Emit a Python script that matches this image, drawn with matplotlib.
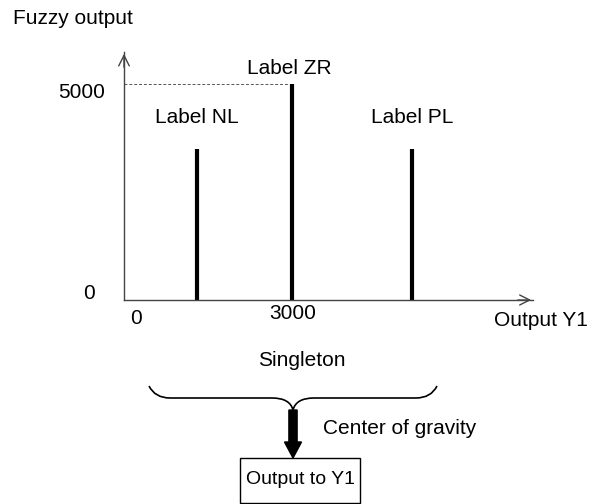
import matplotlib
matplotlib.use("Agg")
import matplotlib.pyplot as plt
from matplotlib.path import Path
from matplotlib.patches import PathPatch, FancyArrow, Rectangle

plt.rcParams['font.family'] = ['Liberation Sans', 'DejaVu Sans']
FS = 15

# singleton outputs
labels = ["Label NL", "Label ZR", "Label PL"]
positions = [1300, 3000, 5150]
heights = [3500, 5000, 3500]
x_ticks = [0, 3000]
y_ticks = [0, 5000]

W, H = 591, 504
fig = plt.figure(figsize=(W / 100, H / 100), dpi=100)

def f(x, y):
    # pixel (from top-left) -> figure fraction
    return (x / W, 1 - y / H)

# data axes: origin at pixel (124, 300)
ax = fig.add_axes([124 / W, 204 / H, 392 / W, 216 / H])
ax.set_xlim(0, 7000)
ax.set_ylim(0, 5000)
ax.axis('off')

ax.vlines(positions, 0, heights, colors='black', linewidth=3)
ax.hlines(heights[1], 0, positions[1] - 50, colors='#555555',
          linewidth=0.7, linestyles=(0, (3, 2)))

for lab, xp, hp in zip(labels, positions, heights):
    off = (0, 22.3) if hp < max(heights) else (-2, 11.5)
    ax.annotate(lab, (xp, hp), xytext=off, textcoords='offset points',
                ha='center', va='center', fontsize=FS)

# axes with open arrow heads
axis_col = '#444444'
fig.add_artist(plt.Line2D([f(124, 0)[0]] * 2, [f(0, 300)[1], f(0, 52)[1]],
                          color=axis_col, lw=1))
fig.add_artist(plt.Line2D([f(124, 0)[0], f(533, 0)[0]], [f(0, 300)[1]] * 2,
                          color=axis_col, lw=1))
ax.annotate('', xy=f(124, 51), xytext=f(124, 70), xycoords='figure fraction',
            arrowprops=dict(arrowstyle='->', color=axis_col, lw=1, mutation_scale=19))
ax.annotate('', xy=f(534, 300), xytext=f(515, 300), xycoords='figure fraction',
            arrowprops=dict(arrowstyle='->', color=axis_col, lw=1, mutation_scale=18))

# tick labels
for xt in x_ticks:
    off = (8.6, -13) if xt == 0 else (0.5, -9.4)
    ax.annotate(str(xt), (xt, 0), xytext=off, textcoords='offset points',
                ha='center', va='center', fontsize=FS)
for yt in y_ticks:
    off = (-20.9, 5) if yt == 0 else (-13.7, -5.8)
    ax.annotate(str(yt), (0, yt), xytext=off, textcoords='offset points',
                ha='right', va='center', fontsize=FS)

fig.text(*f(13, 19), 'Fuzzy output', ha='left', va='center', fontsize=FS)
fig.text(*f(588, 321), 'Output Y1', ha='right', va='center', fontsize=FS)
fig.text(*f(302, 360), 'Singleton', ha='center', va='center', fontsize=FS)
fig.text(*f(323, 428), 'Center of gravity', ha='left', va='center', fontsize=FS)

# curly brace
pts = [(149, 386), (155, 398), (170, 398), (272, 398), (290, 398), (293, 410),
       (296, 398), (314, 398), (416, 398), (431, 398), (437, 386)]
codes = [Path.MOVETO, Path.CURVE3, Path.CURVE3, Path.LINETO, Path.CURVE3, Path.CURVE3,
         Path.CURVE3, Path.CURVE3, Path.LINETO, Path.CURVE3, Path.CURVE3]
brace = Path([f(x, y) for x, y in pts], codes)
fig.add_artist(PathPatch(brace, transform=fig.transFigure, fill=False, lw=1.2, color='black'))

# thick arrow down to the box
x0, y0 = f(293, 410)
x1, y1 = f(293, 458)
fig.add_artist(FancyArrow(x0, y0, 0, y1 - y0, width=7 / H, head_width=17 / W,
                          head_length=16 / H, length_includes_head=True,
                          transform=fig.transFigure, color='black'))

bx, by = f(240, 503)
fig.add_artist(Rectangle((bx, by), 120 / W, 45 / H, transform=fig.transFigure,
                         fill=False, lw=1, edgecolor='black'))
fig.text(*f(300, 479), 'Output to Y1', ha='center', va='center', fontsize=14)

fig.savefig('out.png', dpi=100)
